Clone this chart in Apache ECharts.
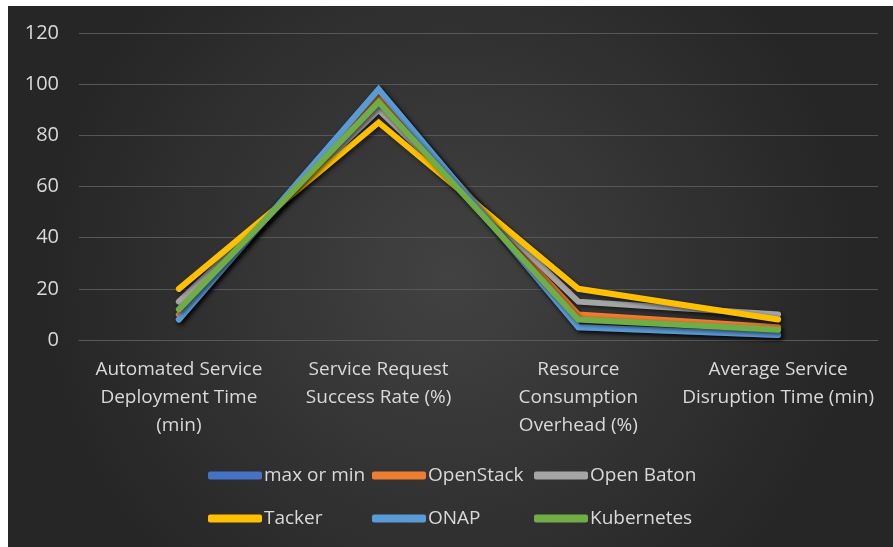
<!DOCTYPE html>
<html>
<head>
<meta charset="utf-8">
<style>
  html, body { margin: 0; padding: 0; background: #ffffff; }
  #chart { position: absolute; left: 8px; top: 6px; width: 885px; height: 541px; }
</style>
<script src="https://cdn.jsdelivr.net/npm/echarts@6/dist/echarts.min.js"></script>
</head>
<body>
<div id="chart"></div>
<script>
// Metric categories along the x axis
const categories = [
  'Automated Service\nDeployment Time\n(min)',
  'Service Request\nSuccess Rate (%)',
  'Resource\nConsumption\nOverhead (%)',
  'Average Service\nDisruption Time (min)'
];

// Values per platform, one entry per category
const maxOrMin   = [8, 98, 5, 2];
const openStack  = [10, 95, 10, 5];
const openBaton  = [15, 90, 15, 10];
const tacker     = [20, 85, 20, 8];
const onap       = [8, 98, 5, 2];
const kubernetes = [12, 93, 8, 4];

const yTicks = { min: 0, max: 120, interval: 20 };

const seriesDefs = [
  { name: 'max or min', data: maxOrMin,   color: '#4472C4' },
  { name: 'OpenStack',  data: openStack,  color: '#ED7D31' },
  { name: 'Open Baton', data: openBaton,  color: '#A5A5A5' },
  { name: 'Tacker',     data: tacker,     color: '#FFC000' },
  { name: 'ONAP',       data: onap,       color: '#5B9BD5' },
  { name: 'Kubernetes', data: kubernetes, color: '#70AD47' }
];

const FONT = '"Open Sans", Lato, sans-serif';
const TEXT = '#d9d9d9';

// Legend laid out as a 3-column, 2-row table
const legendCols = [195, 359, 521];
const legendRows = [455, 498];

const legends = seriesDefs.map((s, i) => ({
  left: legendCols[i % 3],
  top: legendRows[Math.floor(i / 3)],
  data: [s.name],
  icon: 'roundRect',
  itemWidth: 54,
  itemHeight: 8,
  textStyle: { color: TEXT, fontSize: 19, fontFamily: FONT, padding: [0, 0, 0, -3] }
}));

const chart = echarts.init(document.getElementById('chart'));
chart.setOption({
  backgroundColor: {
    type: 'radial', x: 0.5, y: 0.5, r: 0.75,
    colorStops: [
      { offset: 0, color: '#424242' },
      { offset: 1, color: '#262626' }
    ]
  },
  animation: false,
  grid: { left: 71, right: 15, top: 27, bottom: 207 },
  legend: legends,
  xAxis: {
    type: 'category',
    data: categories,
    boundaryGap: true,
    axisLine: { show: true, lineStyle: { color: '#595959', width: 1 } },
    axisTick: { show: false },
    axisLabel: {
      color: TEXT, fontSize: 19, fontFamily: FONT, lineHeight: 28,
      margin: 16, interval: 0
    }
  },
  yAxis: {
    type: 'value',
    min: yTicks.min, max: yTicks.max, interval: yTicks.interval,
    axisLine: { show: false },
    axisTick: { show: false },
    splitLine: { lineStyle: { color: '#575757', width: 1 } },
    axisLabel: { color: TEXT, fontSize: 20, fontFamily: FONT, margin: 20 }
  },
  series: seriesDefs.map(s => ({
    name: s.name,
    type: 'line',
    data: s.data,
    showSymbol: false,
    symbol: 'none',
    color: s.color,
    lineStyle: {
      color: s.color, width: 6, cap: 'round', join: 'miter',
      shadowColor: 'rgba(0,0,0,0.6)', shadowBlur: 4, shadowOffsetX: 2, shadowOffsetY: 2
    }
  }))
});
</script>
</body>
</html>
